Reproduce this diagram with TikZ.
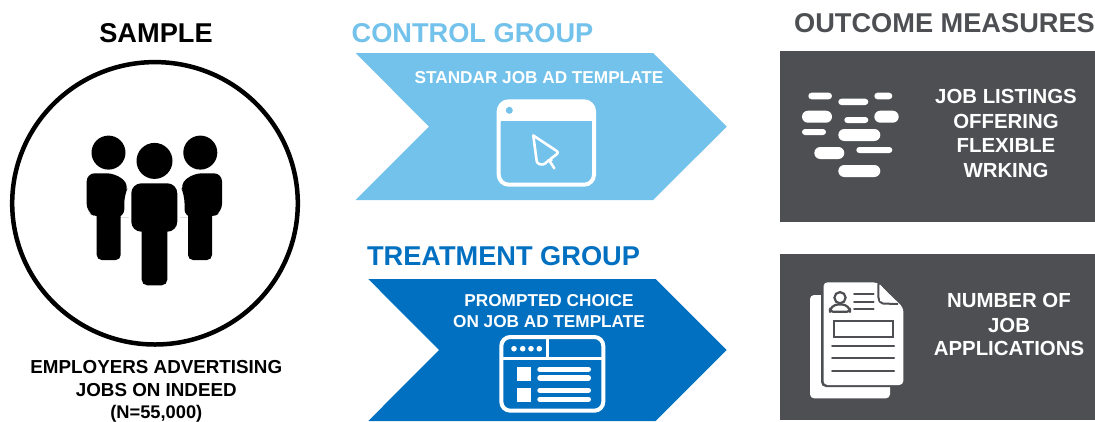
\documentclass[tikz,border=0pt]{standalone}
\usepackage{fontspec}
\setmainfont{Liberation Sans}
\definecolor{lightblue}{HTML}{73C2EB}
\definecolor{darkblue}{HTML}{0270C0}
\definecolor{panelgray}{HTML}{4D4F53}
\tikzset{
  x=1pt,y=-1pt,
  head/.style={anchor=base,inner sep=0pt,font=\fontsize{27.2}{27.2}\selectfont\bfseries},
  small/.style={anchor=base,inner sep=0pt,text=white,font=\fontsize{17.2}{17.2}\selectfont\bfseries},
  outcome/.style={anchor=base,inner sep=0pt,text=white,font=\fontsize{20.4}{20.4}\selectfont\bfseries},
  sampletext/.style={anchor=base,inner sep=0pt,font=\fontsize{18.8}{18.8}\selectfont\bfseries},
  person/.style={fill=black,draw=none},
  docline/.style={draw=panelgray,line width=2pt,line cap=round},
}
\newcommand{\pillbox}[4]{\fill[white,rounded corners={min(#4-#3,#2-#1)/2*1pt-0.01pt}] (#1,#3) rectangle (#2,#4);}
\begin{document}
\begin{tikzpicture}
\useasboundingbox (0,0) rectangle (1095,421);
\fill[white] (0,0) rectangle (1095,421);

% Sample
\node[head] (sample) at (156,42.3) {SAMPLE};
\draw[black,line width=4.5pt] (155,203.3) ellipse [x radius=142.8, y radius=141.2];
\fill[person] (108.5,152.6) circle (17);
\fill[person] (200.3,152.6) circle (17);
\fill[person] (154.5,160.9) circle (18);
% left person
\fill[person,rounded corners=8pt] (86.7,173.3) -- (115,173.3) -- (129.3,184.5) -- (124.3,195) -- (124.3,217.3) -- (120.7,217.3) -- (96.7,217.3) -- (86.7,212) -- cycle;
\fill[person,rounded corners=5pt] (96.7,205) rectangle (120.7,260);
% right person
\fill[person,rounded corners=8pt] (222,173.3) -- (193.6,173.3) -- (179.6,184.5) -- (184.5,195) -- (184.5,217.3) -- (188,217.3) -- (212,217.3) -- (222,212) -- cycle;
\fill[person,rounded corners=5pt] (188,205) rectangle (212,260);
% centre person
\fill[person,rounded corners=10pt] (131.3,183.3) -- (177.3,183.3) -- (177.3,231.7) -- (131.3,231.7) -- cycle;
\fill[person,rounded corners=5.5pt] (141.7,215) rectangle (167.3,285.3);
\node[sampletext] (emp) at (156.3,373.3) {EMPLOYERS ADVERTISING};
\node[sampletext] (jobs) at (156.3,396.7) {JOBS ON INDEED};
\node[anchor=base,inner sep=0pt,font=\fontsize{18.3}{18.3}\selectfont\bfseries] (n) at (156.3,418) {(N=55,000)};

% Control
\node[head,text=lightblue] (control) at (472.5,42) {CONTROL GROUP};
\fill[lightblue] (355.7,53) -- (653,53) -- (726.7,126.7) -- (653,200) -- (355.7,200) -- (429,126.7) -- cycle;
\node[small] (standar) at (539,83.5) {STANDAR JOB AD TEMPLATE};
\draw[white,line width=4pt,rounded corners=10pt] (498.7,101.3) rectangle (594,184.7);
\fill[white,rounded corners=8pt] (498.7,125) -- (498.7,101.3) -- (594,101.3) -- (594,125) -- cycle;
\fill[lightblue] (500.7,121) rectangle (592,128);
\fill[lightblue] (509.3,110.3) circle (3.5);
\draw[white,line width=2.6pt,line cap=round,line join=round,rounded corners=2.5pt]
  (533.3,135.5) -- (559,152.5) -- (549,160) -- (550,160);
\draw[white,line width=2.6pt,line cap=round,line join=round,rounded corners=2.5pt]
  (549,160) -- (543.5,165) -- (537,163.5) -- (533.3,135.5);
\draw[white,line width=2.6pt,line cap=round] (549,160) -- (554.3,168.3);

% Treatment
\node[head,text=darkblue] (treatment) at (503.5,265) {TREATMENT GROUP};
\fill[darkblue] (368.3,279) -- (655.7,279) -- (726.7,350) -- (655.7,421) -- (368.3,421) -- (439,350) -- cycle;
\node[small] (prompted) at (549,306.7) {PROMPTED CHOICE};
\node[small] (onjob) at (549,327.7) {ON JOB AD TEMPLATE};
\draw[white,line width=4pt,rounded corners=9pt] (501.3,337) rectangle (603.3,410.7);
\draw[white,line width=3.5pt] (500,358.3) -- (604,358.3) (547.7,337) -- (547.7,358.3);
\foreach \px in {514,522.7,531,539.3} \fill[white] (\px,348.7) circle (2.8);
\fill[white] (516.7,366.7) rectangle (531,380.7);
\fill[white] (516.7,388.3) rectangle (531,402.3);
\foreach \py in {369.3,378,390.3,399.3} \draw[white,line width=5.5pt,line cap=round] (540,\py) -- (588.3,\py);

% Outcomes
\node[head,text=panelgray] (outcome) at (944.5,32.3) {OUTCOME MEASURES};
\fill[panelgray] (779.7,51) rectangle (1095,222);
\fill[panelgray] (779.7,254.3) rectangle (1095,420);

\node[outcome] (o1) at (1006,103) {JOB LISTINGS};
\node[outcome] (o2) at (1006,128) {OFFERING};
\node[outcome] (o3) at (1006,152) {FLEXIBLE};
\node[outcome] (o4) at (1006,177) {WRKING};
\node[outcome] (o5) at (1009,307) {NUMBER OF};
\node[outcome] (o6) at (1009,332) {JOB};
\node[outcome] (o7) at (1009,355) {APPLICATIONS};

% listing icon
\pillbox{808.3}{832}{92.7}{99.3}
\pillbox{838.3}{868.3}{98.7}{105}
\pillbox{874.3}{892.3}{92.7}{99.3}
\pillbox{802}{832}{110.7}{122.7}
\pillbox{844.3}{868.3}{117}{123}
\pillbox{874.3}{898.7}{110.7}{122.7}
\pillbox{802}{826}{129}{135}
\pillbox{838.3}{880.3}{129}{141}
\pillbox{814.3}{844.3}{147}{159}
\pillbox{856.3}{892.3}{147}{153}
\pillbox{838.3}{880.3}{165}{177}

% document icon
\fill[white,rounded corners=4pt] (810,295) rectangle (890,398.3);
\fill[panelgray,rounded corners=5pt] (821,281) -- (878.3,281) -- (905,306.7) -- (905,387) -- (821,387) -- cycle;
\fill[white,rounded corners=4pt] (823.5,282.3) -- (877,282.3) -- (903.3,307.5) -- (903.3,385) -- (823.5,385) -- cycle;
\draw[panelgray,line width=2pt,line join=round,rounded corners=2pt] (878.3,284) -- (878.3,299) -- (881,303.5) -- (898,304);
\fill[white] (880,284.5) -- (880,301) -- (896.5,302.5) -- cycle;
\draw[panelgray,line width=2.2pt] (840,297.7) circle (5.6);
\draw[panelgray,line width=2.2pt,line join=round,rounded corners=3pt] (830,311.7) -- (830,309) -- (835,304.5) -- (845,304.5) -- (850,309) -- (850,311.7) -- cycle;
\foreach \py in {294,301.7,309} \draw[docline] (854,\py) -- (873.5,\py);
\draw[panelgray,line width=2.4pt] (834,321) rectangle (893,337);
\foreach \py in {345.7,358.3,370.7} \draw[docline] (832,\py) -- (894,\py);
\end{tikzpicture}
\end{document}
